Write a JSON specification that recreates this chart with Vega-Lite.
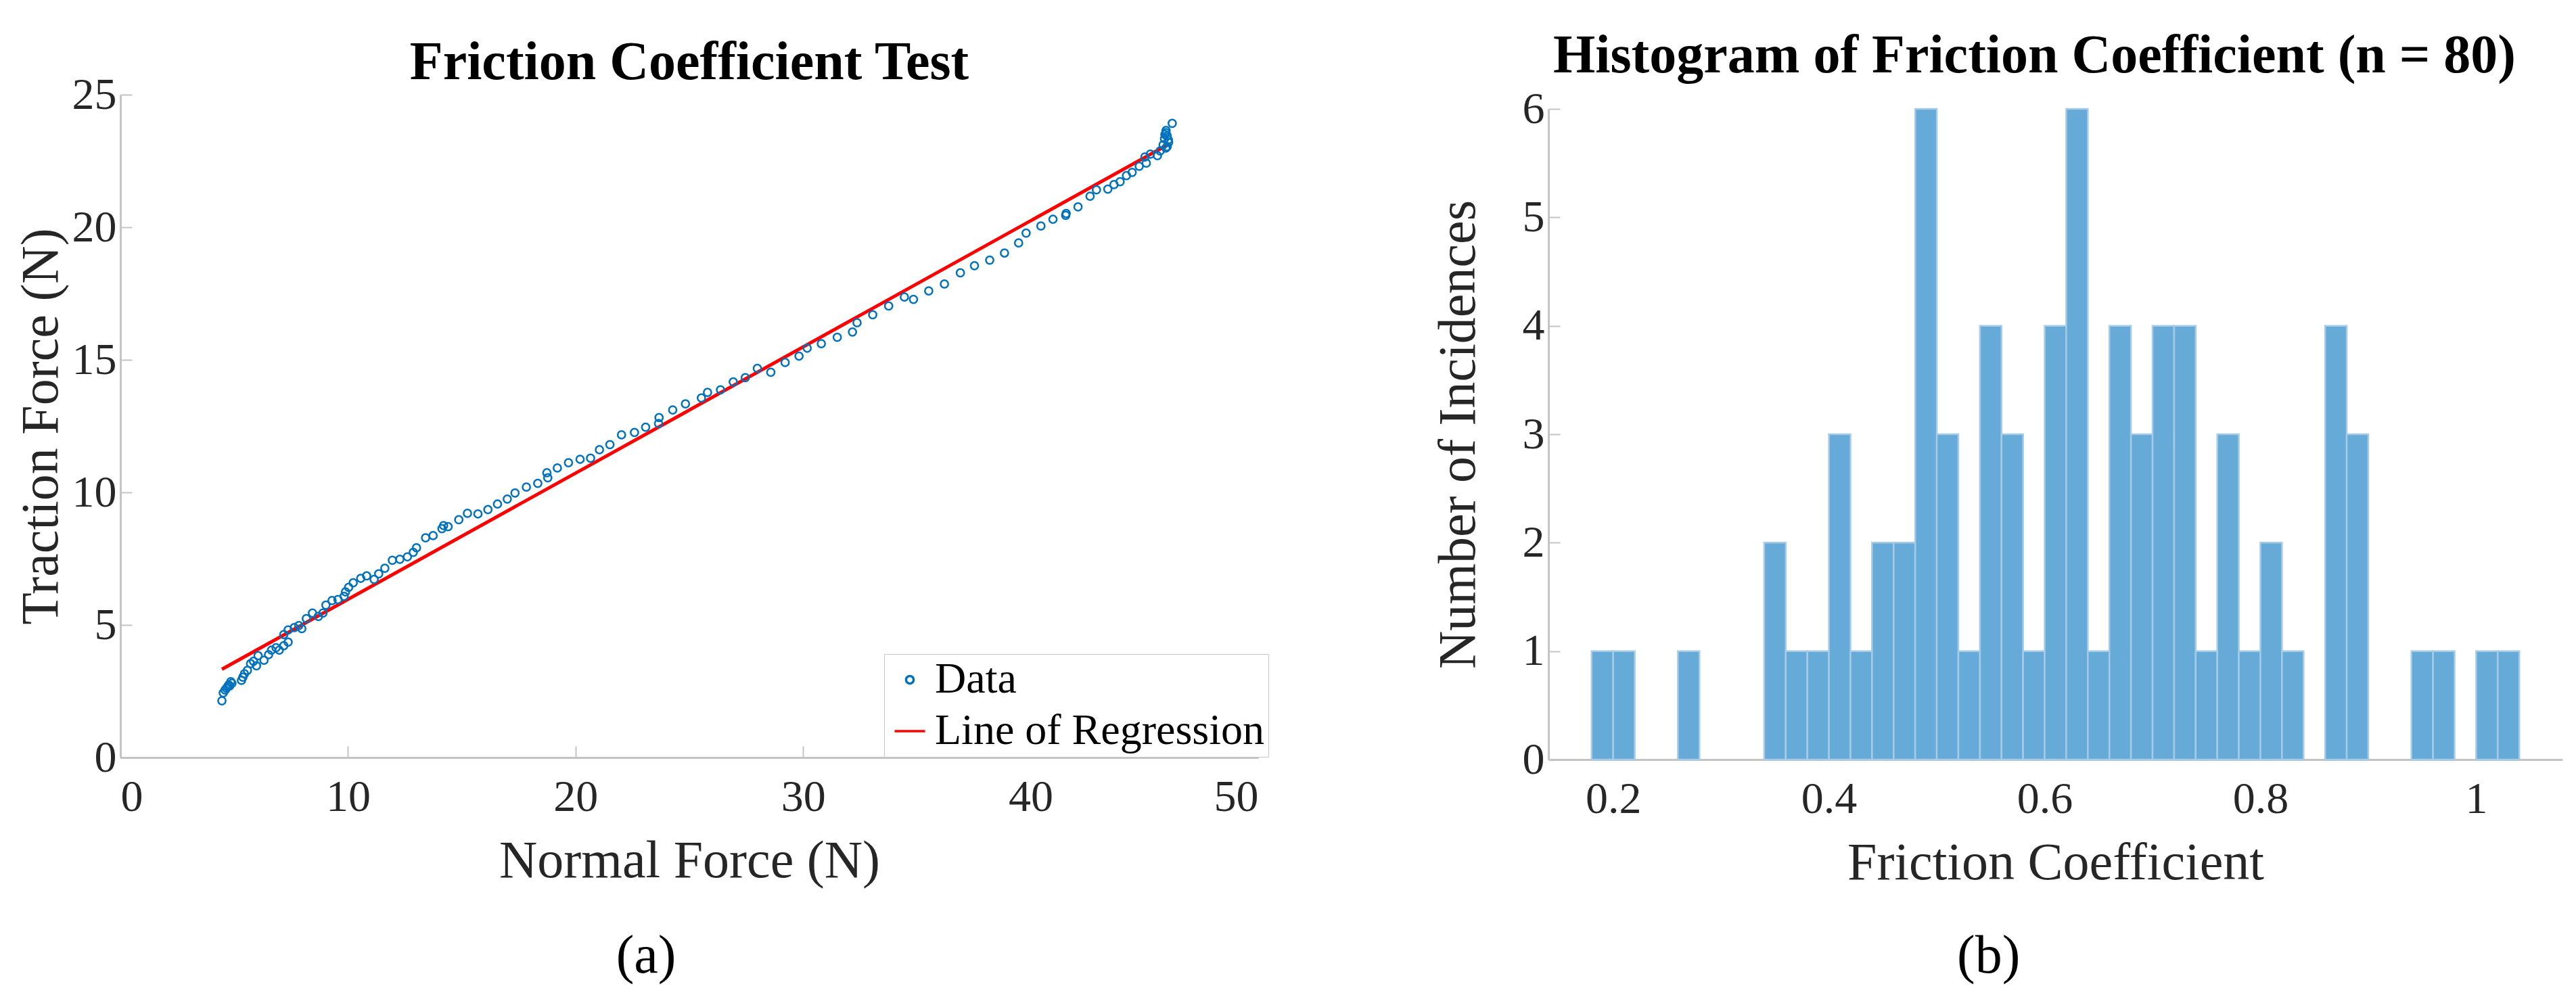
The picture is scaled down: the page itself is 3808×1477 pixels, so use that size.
{
  "$schema": "https://vega.github.io/schema/vega-lite/v6.json",
  "background": "white",
  "padding": {"left": 22, "top": 43, "right": 5, "bottom": 5},
  "spacing": 256,
  "config": {
    "font": "Liberation Serif",
    "view": {"stroke": null},
    "axis": {
      "labelFont": "Liberation Serif",
      "titleFont": "Liberation Serif",
      "labelFontSize": 66,
      "titleFontSize": 78,
      "titleFontWeight": "normal",
      "labelColor": "#262626",
      "titleColor": "#262626",
      "domainColor": "#c4c4c4",
      "domainWidth": 3,
      "tickColor": "#c4c4c4",
      "tickWidth": 2,
      "tickSize": -17,
      "grid": false,
      "titlePadding": 20
    },
    "axisX": {"labelPadding": 43, "titlePadding": 23},
    "axisY": {"labelPadding": 23},
    "title": {"font": "Liberation Serif", "fontSize": 80, "fontWeight": "bold", "color": "#000000"}
  },
  "datasets": {
    "scatter": [
      {"nx": 4.46, "tf": 2.14, "series": "Data"},
      {"nx": 4.52, "tf": 2.44, "series": "Data"},
      {"nx": 4.6, "tf": 2.55, "series": "Data"},
      {"nx": 4.66, "tf": 2.61, "series": "Data"},
      {"nx": 4.72, "tf": 2.68, "series": "Data"},
      {"nx": 4.76, "tf": 2.74, "series": "Data"},
      {"nx": 4.8, "tf": 2.7, "series": "Data"},
      {"nx": 4.85, "tf": 2.86, "series": "Data"},
      {"nx": 4.9, "tf": 2.8, "series": "Data"},
      {"nx": 5.32, "tf": 2.91, "series": "Data"},
      {"nx": 5.38, "tf": 3.03, "series": "Data"},
      {"nx": 5.45, "tf": 3.16, "series": "Data"},
      {"nx": 5.58, "tf": 3.29, "series": "Data"},
      {"nx": 5.72, "tf": 3.54, "series": "Data"},
      {"nx": 5.85, "tf": 3.63, "series": "Data"},
      {"nx": 5.98, "tf": 3.46, "series": "Data"},
      {"nx": 6.05, "tf": 3.84, "series": "Data"},
      {"nx": 6.31, "tf": 3.67, "series": "Data"},
      {"nx": 6.51, "tf": 3.88, "series": "Data"},
      {"nx": 6.64, "tf": 4.05, "series": "Data"},
      {"nx": 6.84, "tf": 4.14, "series": "Data"},
      {"nx": 6.98, "tf": 4.05, "series": "Data"},
      {"nx": 7.18, "tf": 4.22, "series": "Data"},
      {"nx": 7.37, "tf": 4.35, "series": "Data"},
      {"nx": 7.18, "tf": 4.64, "series": "Data"},
      {"nx": 7.37, "tf": 4.81, "series": "Data"},
      {"nx": 7.64, "tf": 4.9, "series": "Data"},
      {"nx": 7.84, "tf": 4.98, "series": "Data"},
      {"nx": 7.97, "tf": 4.86, "series": "Data"},
      {"nx": 8.17, "tf": 5.24, "series": "Data"},
      {"nx": 8.44, "tf": 5.45, "series": "Data"},
      {"nx": 8.7, "tf": 5.32, "series": "Data"},
      {"nx": 8.9, "tf": 5.45, "series": "Data"},
      {"nx": 9.03, "tf": 5.75, "series": "Data"},
      {"nx": 9.3, "tf": 5.92, "series": "Data"},
      {"nx": 9.56, "tf": 5.96, "series": "Data"},
      {"nx": 9.83, "tf": 6.08, "series": "Data"},
      {"nx": 9.89, "tf": 6.25, "series": "Data"},
      {"nx": 10.03, "tf": 6.42, "series": "Data"},
      {"nx": 10.23, "tf": 6.59, "series": "Data"},
      {"nx": 10.56, "tf": 6.76, "series": "Data"},
      {"nx": 10.82, "tf": 6.85, "series": "Data"},
      {"nx": 11.15, "tf": 6.72, "series": "Data"},
      {"nx": 11.35, "tf": 6.93, "series": "Data"},
      {"nx": 11.62, "tf": 7.14, "series": "Data"},
      {"nx": 11.95, "tf": 7.44, "series": "Data"},
      {"nx": 12.28, "tf": 7.48, "series": "Data"},
      {"nx": 12.61, "tf": 7.57, "series": "Data"},
      {"nx": 12.87, "tf": 7.74, "series": "Data"},
      {"nx": 13.01, "tf": 7.91, "series": "Data"},
      {"nx": 13.41, "tf": 8.29, "series": "Data"},
      {"nx": 13.74, "tf": 8.37, "series": "Data"},
      {"nx": 14.13, "tf": 8.63, "series": "Data"},
      {"nx": 14.2, "tf": 8.75, "series": "Data"},
      {"nx": 14.4, "tf": 8.71, "series": "Data"},
      {"nx": 14.87, "tf": 8.97, "series": "Data"},
      {"nx": 15.25, "tf": 9.21, "series": "Data"},
      {"nx": 15.71, "tf": 9.19, "series": "Data"},
      {"nx": 16.15, "tf": 9.35, "series": "Data"},
      {"nx": 16.57, "tf": 9.56, "series": "Data"},
      {"nx": 17.0, "tf": 9.75, "series": "Data"},
      {"nx": 17.34, "tf": 9.98, "series": "Data"},
      {"nx": 17.84, "tf": 10.2, "series": "Data"},
      {"nx": 18.34, "tf": 10.34, "series": "Data"},
      {"nx": 18.74, "tf": 10.74, "series": "Data"},
      {"nx": 18.78, "tf": 10.55, "series": "Data"},
      {"nx": 19.2, "tf": 10.92, "series": "Data"},
      {"nx": 19.69, "tf": 11.12, "series": "Data"},
      {"nx": 20.2, "tf": 11.25, "series": "Data"},
      {"nx": 20.66, "tf": 11.29, "series": "Data"},
      {"nx": 21.05, "tf": 11.61, "series": "Data"},
      {"nx": 21.51, "tf": 11.8, "series": "Data"},
      {"nx": 22.02, "tf": 12.17, "series": "Data"},
      {"nx": 22.59, "tf": 12.26, "series": "Data"},
      {"nx": 23.08, "tf": 12.46, "series": "Data"},
      {"nx": 23.65, "tf": 12.6, "series": "Data"},
      {"nx": 23.67, "tf": 12.82, "series": "Data"},
      {"nx": 24.27, "tf": 13.11, "series": "Data"},
      {"nx": 24.83, "tf": 13.34, "series": "Data"},
      {"nx": 25.53, "tf": 13.56, "series": "Data"},
      {"nx": 25.8, "tf": 13.77, "series": "Data"},
      {"nx": 26.37, "tf": 13.87, "series": "Data"},
      {"nx": 26.93, "tf": 14.17, "series": "Data"},
      {"nx": 27.46, "tf": 14.33, "series": "Data"},
      {"nx": 27.99, "tf": 14.68, "series": "Data"},
      {"nx": 28.58, "tf": 14.53, "series": "Data"},
      {"nx": 29.21, "tf": 14.9, "series": "Data"},
      {"nx": 29.82, "tf": 15.14, "series": "Data"},
      {"nx": 30.18, "tf": 15.44, "series": "Data"},
      {"nx": 30.8, "tf": 15.61, "series": "Data"},
      {"nx": 31.5, "tf": 15.85, "series": "Data"},
      {"nx": 32.17, "tf": 16.05, "series": "Data"},
      {"nx": 32.37, "tf": 16.4, "series": "Data"},
      {"nx": 33.06, "tf": 16.7, "series": "Data"},
      {"nx": 33.76, "tf": 17.03, "series": "Data"},
      {"nx": 34.45, "tf": 17.37, "series": "Data"},
      {"nx": 34.85, "tf": 17.28, "series": "Data"},
      {"nx": 35.52, "tf": 17.6, "series": "Data"},
      {"nx": 36.21, "tf": 17.86, "series": "Data"},
      {"nx": 36.91, "tf": 18.28, "series": "Data"},
      {"nx": 37.53, "tf": 18.55, "series": "Data"},
      {"nx": 38.2, "tf": 18.76, "series": "Data"},
      {"nx": 38.85, "tf": 19.03, "series": "Data"},
      {"nx": 39.47, "tf": 19.41, "series": "Data"},
      {"nx": 39.8, "tf": 19.78, "series": "Data"},
      {"nx": 40.45, "tf": 20.05, "series": "Data"},
      {"nx": 40.98, "tf": 20.3, "series": "Data"},
      {"nx": 41.54, "tf": 20.45, "series": "Data"},
      {"nx": 41.56, "tf": 20.52, "series": "Data"},
      {"nx": 42.08, "tf": 20.77, "series": "Data"},
      {"nx": 42.61, "tf": 21.17, "series": "Data"},
      {"nx": 42.89, "tf": 21.41, "series": "Data"},
      {"nx": 43.39, "tf": 21.44, "series": "Data"},
      {"nx": 43.66, "tf": 21.61, "series": "Data"},
      {"nx": 43.93, "tf": 21.72, "series": "Data"},
      {"nx": 44.21, "tf": 21.95, "series": "Data"},
      {"nx": 44.46, "tf": 22.07, "series": "Data"},
      {"nx": 44.77, "tf": 22.3, "series": "Data"},
      {"nx": 45.08, "tf": 22.42, "series": "Data"},
      {"nx": 45.02, "tf": 22.65, "series": "Data"},
      {"nx": 45.26, "tf": 22.76, "series": "Data"},
      {"nx": 45.57, "tf": 22.7, "series": "Data"},
      {"nx": 45.69, "tf": 22.88, "series": "Data"},
      {"nx": 45.82, "tf": 23.11, "series": "Data"},
      {"nx": 45.94, "tf": 22.99, "series": "Data"},
      {"nx": 45.88, "tf": 23.34, "series": "Data"},
      {"nx": 45.94, "tf": 23.57, "series": "Data"},
      {"nx": 46.0, "tf": 23.45, "series": "Data"},
      {"nx": 46.06, "tf": 23.2, "series": "Data"},
      {"nx": 46.0, "tf": 23.04, "series": "Data"},
      {"nx": 45.9, "tf": 23.5, "series": "Data"},
      {"nx": 45.95, "tf": 23.65, "series": "Data"},
      {"nx": 46.05, "tf": 23.3, "series": "Data"},
      {"nx": 46.22, "tf": 23.92, "series": "Data"}
    ],
    "fit": [
      {"nx": 4.46, "tf": 3.33, "series": "Line of Regression"},
      {"nx": 46.1, "tf": 23.15, "series": "Line of Regression"}
    ],
    "hist": [
      {"b0": 0.18, "b1": 0.20, "count": 1},
      {"b0": 0.20, "b1": 0.22, "count": 1},
      {"b0": 0.26, "b1": 0.28, "count": 1},
      {"b0": 0.34, "b1": 0.36, "count": 2},
      {"b0": 0.36, "b1": 0.38, "count": 1},
      {"b0": 0.38, "b1": 0.40, "count": 1},
      {"b0": 0.40, "b1": 0.42, "count": 3},
      {"b0": 0.42, "b1": 0.44, "count": 1},
      {"b0": 0.44, "b1": 0.46, "count": 2},
      {"b0": 0.46, "b1": 0.48, "count": 2},
      {"b0": 0.48, "b1": 0.50, "count": 6},
      {"b0": 0.50, "b1": 0.52, "count": 3},
      {"b0": 0.52, "b1": 0.54, "count": 1},
      {"b0": 0.54, "b1": 0.56, "count": 4},
      {"b0": 0.56, "b1": 0.58, "count": 3},
      {"b0": 0.58, "b1": 0.60, "count": 1},
      {"b0": 0.60, "b1": 0.62, "count": 4},
      {"b0": 0.62, "b1": 0.64, "count": 6},
      {"b0": 0.64, "b1": 0.66, "count": 1},
      {"b0": 0.66, "b1": 0.68, "count": 4},
      {"b0": 0.68, "b1": 0.70, "count": 3},
      {"b0": 0.70, "b1": 0.72, "count": 4},
      {"b0": 0.72, "b1": 0.74, "count": 4},
      {"b0": 0.74, "b1": 0.76, "count": 1},
      {"b0": 0.76, "b1": 0.78, "count": 3},
      {"b0": 0.78, "b1": 0.80, "count": 1},
      {"b0": 0.80, "b1": 0.82, "count": 2},
      {"b0": 0.82, "b1": 0.84, "count": 1},
      {"b0": 0.86, "b1": 0.88, "count": 4},
      {"b0": 0.88, "b1": 0.90, "count": 3},
      {"b0": 0.94, "b1": 0.96, "count": 1},
      {"b0": 0.96, "b1": 0.98, "count": 1},
      {"b0": 1.00, "b1": 1.02, "count": 1},
      {"b0": 1.02, "b1": 1.04, "count": 1}
    ]
  },
  "hconcat": [
    {
      "width": 1682,
      "height": 980,
      "title": {"text": "Friction Coefficient Test", "offset": -27},
      "layer": [
        {
          "data": {"name": "fit"},
          "mark": {"type": "line", "strokeWidth": 5},
          "encoding": {
            "x": {"field": "nx", "type": "quantitative", "scale": {"domain": [0, 50], "nice": false}, "axis": {"title": "Normal Force (N)", "values": [0, 10, 20, 30, 40, 50]}},
            "y": {"field": "tf", "type": "quantitative", "scale": {"domain": [0, 25], "nice": false}, "axis": {"title": "Traction Force (N)", "values": [0, 5, 10, 15, 20, 25], "titlePadding": 6}},
            "color": {"field": "series", "type": "nominal", "scale": {"domain": ["Data", "Line of Regression"], "range": ["#0072BD", "#FF0000"]}, "legend": {"title": null, "orient": "none", "legendX": 1129, "legendY": 827, "labelFont": "Liberation Serif", "labelFontSize": 64, "labelColor": "#000000", "labelLimit": 2000, "strokeColor": "#c8c8c8", "fillColor": "#ffffff", "padding": 6, "rowPadding": 12, "symbolSize": 2025, "symbolStrokeWidth": 3.5, "labelOffset": 5}}
          }
        },
        {
          "data": {"name": "scatter"},
          "mark": {"type": "point", "filled": false, "strokeWidth": 2.5, "size": 2025, "opacity": 1},
          "encoding": {
            "x": {"field": "nx", "type": "quantitative"},
            "y": {"field": "tf", "type": "quantitative"},
            "color": {"field": "series", "type": "nominal", "legend": {"title": null, "orient": "none", "legendX": 1129, "legendY": 827, "labelFont": "Liberation Serif", "labelFontSize": 64, "labelColor": "#000000", "labelLimit": 2000, "strokeColor": "#c8c8c8", "fillColor": "#ffffff", "padding": 6, "rowPadding": 12, "symbolSize": 2025, "symbolStrokeWidth": 3.5, "labelOffset": 5}},
            "shape": {"field": "series", "type": "nominal", "scale": {"domain": ["Data", "Line of Regression"], "range": ["M-0.25,0A0.25,0.25,0,1,1,0.25,0A0.25,0.25,0,1,1,-0.25,0Z", "M-1,0L1,0"]}, "legend": {"title": null, "orient": "none", "legendX": 1129, "legendY": 827, "labelFont": "Liberation Serif", "labelFontSize": 64, "labelColor": "#000000", "labelLimit": 2000, "strokeColor": "#c8c8c8", "fillColor": "#ffffff", "padding": 6, "rowPadding": 12, "symbolSize": 2025, "symbolStrokeWidth": 3.5, "labelOffset": 5}}
          }
        },
        {
          "data": {"values": [{"label": "(a)"}]},
          "mark": {"type": "text", "font": "Liberation Serif", "fontSize": 80, "color": "#000000", "baseline": "middle", "align": "center"},
          "encoding": {
            "text": {"field": "label", "type": "nominal"},
            "x": {"datum": 23.1},
            "y": {"datum": -7.5}
          }
        }
      ]
    },
    {
      "width": 1499,
      "height": 983,
      "title": {"text": "Histogram of Friction Coefficient (n = 80)", "offset": 4, "dx": -31},
      "layer": [
        {
          "data": {"name": "hist"},
          "mark": {"type": "rect", "fill": "#66AAD7", "stroke": "#a5cbe8", "strokeWidth": 2.5},
          "encoding": {
            "x": {"field": "b0", "type": "quantitative", "scale": {"domain": [0.14, 1.08], "nice": false, "zero": false}, "axis": {"title": "Friction Coefficient", "values": [0.2, 0.4, 0.6, 0.8, 1], "format": "~g"}},
            "x2": {"field": "b1"},
            "y": {"field": "count", "type": "quantitative", "scale": {"domain": [0, 6], "nice": false, "range": [983, 21]}, "axis": {"title": "Number of Incidences", "values": [0, 1, 2, 3, 4, 5, 6], "format": "d", "titlePadding": 55}},
            "y2": {"datum": 0}
          }
        },
        {
          "data": {"values": [{"label": "(b)"}]},
          "mark": {"type": "text", "font": "Liberation Serif", "fontSize": 80, "color": "#000000", "baseline": "middle", "align": "center"},
          "encoding": {
            "text": {"field": "label", "type": "nominal"},
            "x": {"datum": 0.548},
            "y": {"datum": -1.815}
          }
        }
      ]
    }
  ]
}
